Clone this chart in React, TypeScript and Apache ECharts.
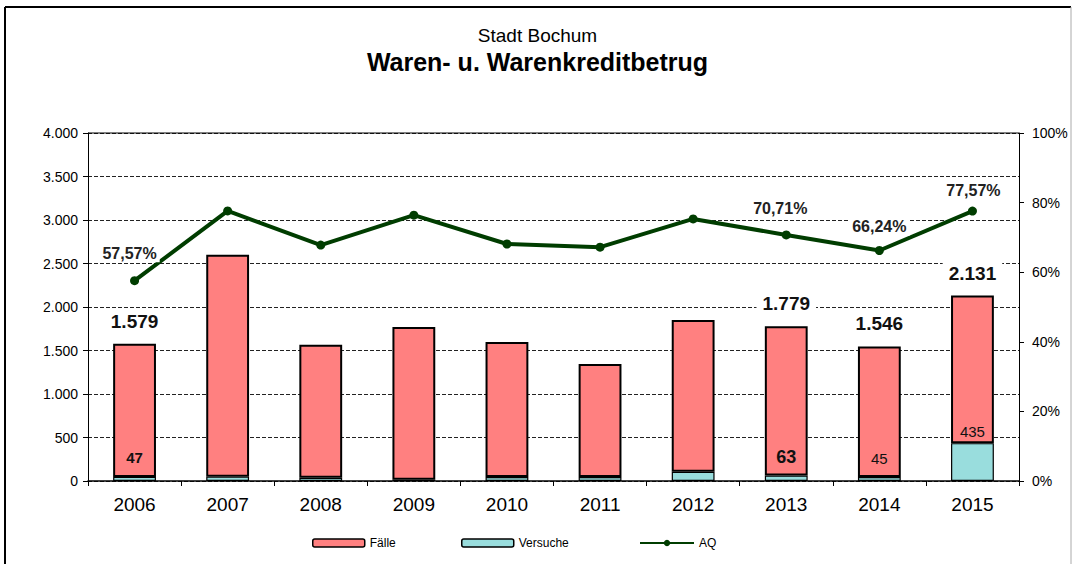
import React, { useEffect, useRef } from "react";
import * as echarts from "echarts";

const years = ["2006", "2007", "2008", "2009", "2010", "2011", "2012", "2013", "2014", "2015"];
const totalCases = [1579, 2600, 1565, 1770, 1598, 1345, 1851, 1779, 1546, 2131];
const attempts = [47, 50, 38, 15, 45, 45, 107, 63, 45, 435];
const clearanceRate = [57.57, 77.6, 67.8, 76.4, 68.1, 67.2, 75.3, 70.71, 66.24, 77.57];

const totalLabelShown = [true, false, false, false, false, false, false, true, true, true];
const attemptLabelShown = [true, false, false, false, false, false, false, true, true, true];
const rateLabelShown = [true, false, false, false, false, false, false, true, true, true];

const leftTicks = ["0", "500", "1.000", "1.500", "2.000", "2.500", "3.000", "3.500", "4.000"];

const FONT = "Liberation Sans, Arial, sans-serif";

function fmtThousands(v: number): string {
  return String(v).replace(/\B(?=(\d{3})+(?!\d))/g, ".");
}
function fmtPct(v: number): string {
  return v.toFixed(2).replace(".", ",") + "%";
}

export default function App() {
  const ref = useRef<HTMLDivElement>(null);
  useEffect(() => {
    if (!ref.current) return;
    const chart = echarts.init(ref.current, null, { renderer: "svg" });

    const restCases = totalCases.map((t, i) => t - attempts[i]);

    const attemptStyles = [
      { fontSize: 15, fontWeight: "bold", distance: 12 },
      null, null, null, null, null, null,
      { fontSize: 18, fontWeight: "bold", distance: 10 },
      { fontSize: 15, fontWeight: "normal", distance: 11 },
      { fontSize: 15, fontWeight: "normal", distance: 4 },
    ];
    const rateDist = [14, 0, 0, 0, 0, 0, 0, 13, 10, 7];
    const rateOffX = [-5, 0, 0, 0, 0, 0, 0, -6, 0, 1];

    const legendText = { fontSize: 12, color: "#000", fontFamily: FONT };

    const option: any = {
      animation: false,
      backgroundColor: "#ffffff",
      textStyle: { fontFamily: FONT },
      title: [
        {
          text: "Stadt Bochum",
          left: "center",
          top: 21,
          textStyle: { fontSize: 19, fontWeight: "normal", color: "#000", fontFamily: FONT },
        },
        {
          text: "Waren- u. Warenkreditbetrug",
          left: "center",
          top: 44,
          textStyle: { fontSize: 25, fontWeight: "bold", color: "#000", fontFamily: FONT },
        },
      ],
      legend: [
        {
          left: 307,
          top: 532,
          itemWidth: 52,
          itemHeight: 8,
          textStyle: legendText,
          data: [{ name: "Fälle", itemStyle: { color: "#FF8080", borderColor: "#000", borderWidth: 1.5 } }],
        },
        {
          left: 456,
          top: 532,
          itemWidth: 52,
          itemHeight: 8,
          textStyle: legendText,
          data: [{ name: "Versuche", itemStyle: { color: "#99DDDD", borderColor: "#000", borderWidth: 1.5 } }],
        },
        {
          left: 634,
          top: 532,
          itemWidth: 54,
          itemHeight: 8,
          textStyle: legendText,
          data: [{ name: "AQ" }],
        },
      ],
      grid: { left: 88, right: 56, top: 133, bottom: 83, show: false },
      xAxis: {
        type: "category",
        data: years,
        axisLine: { lineStyle: { color: "#000", width: 1.5 } },
        axisTick: { show: true, length: 5, lineStyle: { color: "#000" } },
        axisLabel: { fontSize: 19, color: "#000", margin: 14, fontFamily: FONT },
      },
      yAxis: [
        {
          type: "value",
          min: 0,
          max: 4000,
          interval: 500,
          axisLine: { show: true, lineStyle: { color: "#000", width: 1 } },
          axisTick: { show: true, length: 5, lineStyle: { color: "#000" } },
          axisLabel: {
            fontSize: 14,
            color: "#000",
            margin: 10,
            fontFamily: FONT,
            formatter: (v: number) => leftTicks[Math.round(v / 500)],
          },
          splitLine: {
            show: true,
            lineStyle: { color: "#222", type: [4, 2], width: 1 },
          },
        },
        {
          type: "value",
          min: 0,
          max: 100,
          interval: 20,
          axisLine: { show: true, lineStyle: { color: "#000", width: 1 } },
          axisTick: { show: true, length: 5, lineStyle: { color: "#000" } },
          axisLabel: {
            fontSize: 14,
            color: "#000",
            margin: 13,
            fontFamily: FONT,
            formatter: (v: number) => v + "%",
          },
          splitLine: { show: false },
        },
      ],
      series: [
        {
          name: "Versuche",
          type: "bar",
          stack: "cases",
          barWidth: "46%",
          z: 2,
          itemStyle: { color: "#99DDDD", borderColor: "#000", borderWidth: 1.2 },
          data: attempts.map((v, i) => {
            const st = attemptStyles[i];
            return {
              value: v,
              label: attemptLabelShown[i] && st
                ? {
                    show: true,
                    position: "top",
                    distance: st.distance,
                    fontSize: st.fontSize,
                    fontWeight: st.fontWeight,
                    color: "#111",
                    fontFamily: FONT,
                    formatter: () => fmtThousands(v),
                  }
                : { show: false },
            };
          }),
        },
        {
          name: "Fälle",
          type: "bar",
          stack: "cases",
          barWidth: "46%",
          z: 1,
          itemStyle: { color: "#FF8080", borderColor: "#000", borderWidth: 2 },
          data: restCases.map((v, i) => ({
            value: v,
            label: totalLabelShown[i]
              ? {
                  show: true,
                  position: "top",
                  distance: 12,
                  fontSize: 19,
                  fontWeight: "bold",
                  color: "#111",
                  fontFamily: FONT,
                  backgroundColor: "#fff",
                  padding: [1, 6],
                  formatter: () => fmtThousands(totalCases[i]),
                }
              : { show: false },
          })),
        },
        {
          name: "AQ",
          type: "line",
          yAxisIndex: 1,
          z: 5,
          symbol: "circle",
          symbolSize: 9,
          lineStyle: { color: "#003d00", width: 4 },
          itemStyle: { color: "#003d00" },
          data: clearanceRate.map((v, i) => ({
            value: v,
            label: rateLabelShown[i]
              ? {
                  show: true,
                  position: "top",
                  distance: rateDist[i],
                  offset: [rateOffX[i], 0],
                  fontSize: 16,
                  fontWeight: "bold",
                  color: "#222",
                  fontFamily: FONT,
                  backgroundColor: "#fff",
                  padding: [1, 3],
                  formatter: () => fmtPct(v),
                }
              : { show: false },
          })),
        },
      ],
      graphic: [
        { type: "line", shape: { x1: 5, y1: 7, x2: 1071, y2: 7 }, style: { stroke: "#000", lineWidth: 2 } },
        { type: "line", shape: { x1: 5, y1: 7, x2: 5, y2: 564 }, style: { stroke: "#000", lineWidth: 2 } },
        { type: "line", shape: { x1: 1071, y1: 7, x2: 1071, y2: 564 }, style: { stroke: "#aaa", lineWidth: 1 } },
        { type: "line", shape: { x1: 88, y1: 133, x2: 1019, y2: 133 }, style: { stroke: "#000", lineWidth: 1 }, z: 10 },
      ],
    };

    chart.setOption(option);
    return () => chart.dispose();
  }, []);

  return (
    <div
      ref={ref}
      style={{ position: "absolute", left: 0, top: 0, width: 1075, height: 564 }}
    />
  );
}
